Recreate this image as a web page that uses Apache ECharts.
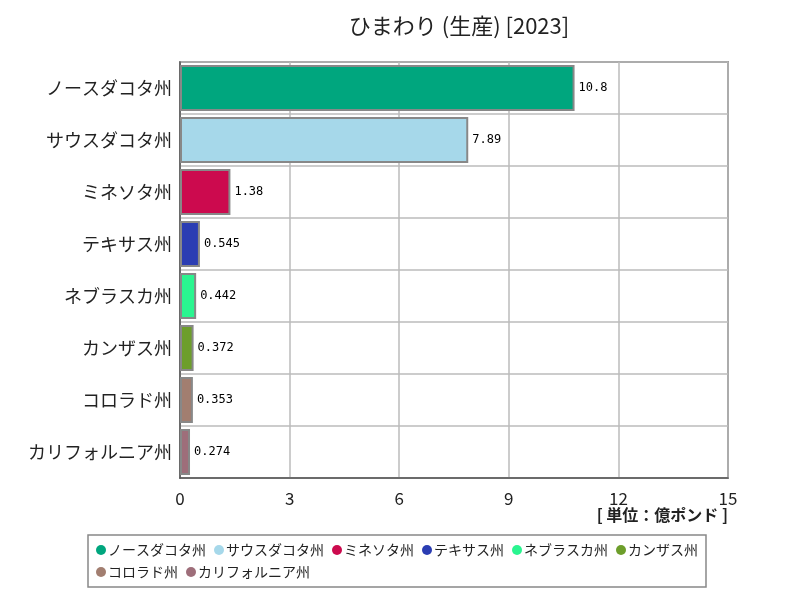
<!DOCTYPE html>
<html><head><meta charset="utf-8">
<script src="https://cdn.jsdelivr.net/npm/echarts@6/dist/echarts.min.js"></script>
<style>html,body{margin:0;padding:0;background:#fff}#c{width:800px;height:600px}</style>
</head><body><div id="c"></div>
<script>
const categories = ['ノースダコタ州','サウスダコタ州','ミネソタ州','テキサス州','ネブラスカ州','カンザス州','コロラド州','カリフォルニア州'];
const values = [10.8, 7.89, 1.38, 0.545, 0.442, 0.372, 0.353, 0.274];
const colors = ['#00A67E','#A6D8EA','#CC0A4E','#2B3DB3','#2AF590','#6D9E2B','#A27E70','#9E6E7A'];
const xTicks = [0,3,6,9,12,15];
const fontJP = '"Noto Sans CJK JP", sans-serif';

const series = categories.map((name, i) => ({
  name: name,
  type: 'bar',
  stack: 'total',
  barCategoryGap: '12%',
  data: categories.map((c, j) => j === i ? values[i] : '-'),
  itemStyle: { color: colors[i], borderColor: '#888', borderWidth: 2 },
  label: { show: true, position: 'right', color: '#000', fontSize: 12, fontFamily: '"DejaVu Sans Mono", monospace', distance: 4 }
}));

const chart = echarts.init(document.getElementById('c'));
chart.setOption({
  animation: false,
  color: colors,
  title: { text: 'ひまわり (生産) [2023]', left: 454, textAlign: 'center', top: 10, textStyle: { fontFamily: fontJP, fontSize: 22, fontWeight: 'normal', color: '#222' } },
  grid: { left: 180, right: 72, top: 62, bottom: 122, show: true, borderColor: '#555', borderWidth: 1.5, containLabel: false },
  xAxis: {
    type: 'value', min: xTicks[0], max: xTicks[xTicks.length-1], interval: 3,
    axisLine: { show: true, lineStyle: { color: '#555', width: 1.5 } },
    axisTick: { show: false },
    axisLabel: { fontSize: 17, color: '#222', margin: 12, fontFamily: fontJP },
    splitLine: { show: true, lineStyle: { color: '#bbb', width: 1.5 } }
  },
  yAxis: {
    type: 'category', data: categories, inverse: true,
    axisLine: { show: true, lineStyle: { color: '#555', width: 1.5 } },
    axisTick: { show: false },
    axisLabel: { fontSize: 18, color: '#222', margin: 8, fontFamily: fontJP },
    splitLine: { show: true, lineStyle: { color: '#bbb', width: 1.5 } }
  },
  legend: {
    data: categories, left: 88, top: 535, width: 614,
    padding: [8, 8], borderColor: '#888', borderWidth: 1.5,
    itemWidth: 10, itemHeight: 10, itemGap: 8, icon: 'circle',
    itemStyle: { borderWidth: 0 },
    textStyle: { fontSize: 14, color: '#222', fontFamily: fontJP, padding: [0,0,0,-3] }
  },
  graphic: [{ type: 'text', right: 72, top: 507, style: { text: '[ 単位：億ポンド ]', fill: '#222', font: 'bold 16px "Noto Sans CJK JP", sans-serif' } }],
  series: series
});
</script></body></html>
